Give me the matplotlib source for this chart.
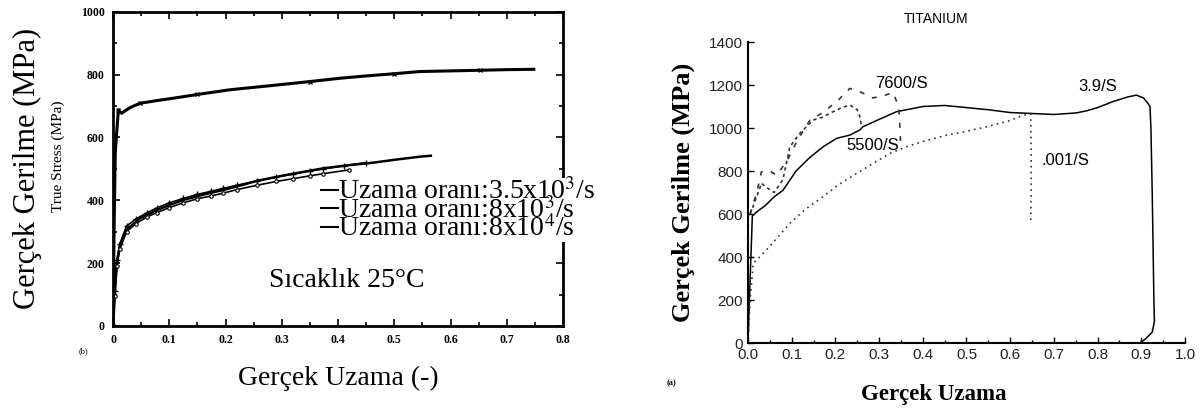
import matplotlib
matplotlib.use("Agg")
import matplotlib.pyplot as plt
from matplotlib.ticker import MultipleLocator, FuncFormatter, FormatStrFormatter

plt.rcParams["font.family"] = ["Liberation Serif", "DejaVu Serif"]
plt.rcParams["mathtext.fontset"] = "stix"

# --- sol panel (b): gerilme-uzama, 25 C
x_ust = [0, 0.002, 0.004, 0.0095, 0.015, 0.03, 0.048, 0.08, 0.107, 0.15, 0.208, 0.28, 0.35, 0.4, 0.45, 0.5, 0.546, 0.6, 0.653, 0.7, 0.748]
y_ust = [0, 330, 555, 688, 677, 695, 709, 718, 725, 737, 752, 765, 778, 788, 796, 803, 810, 812, 814, 816, 817]

x_a = [0, 0.002, 0.0036, 0.0065, 0.012, 0.024, 0.048, 0.078, 0.1, 0.125, 0.16, 0.196, 0.23, 0.256, 0.3, 0.34, 0.374, 0.42, 0.463, 0.5, 0.546, 0.565]
y_a = [0, 60, 115, 200, 253, 306, 343, 369, 385, 401, 418, 433, 449, 462, 478, 491, 502, 512, 520, 529, 539, 542]

x_b = [0, 0.003, 0.007, 0.012, 0.024, 0.04, 0.06, 0.078, 0.1, 0.125, 0.15, 0.175, 0.196, 0.22, 0.256, 0.29, 0.32, 0.35, 0.374, 0.41, 0.45]
y_b = [0, 110, 210, 262, 318, 340, 360, 376, 392, 406, 419, 429, 438, 448, 462, 474, 484, 494, 500, 510, 520]

x_c = [0, 0.003, 0.007, 0.012, 0.024, 0.04, 0.06, 0.078, 0.1, 0.125, 0.15, 0.175, 0.196, 0.22, 0.256, 0.29, 0.32, 0.35, 0.374, 0.42]
y_c = [0, 95, 190, 245, 300, 325, 347, 361, 377, 392, 405, 414, 423, 434, 448, 460, 469, 478, 485, 497]

etiketler_b = ["Uzama oranı:3.5x10$^3$/s", "Uzama oranı:8x10$^3$/s", "Uzama oranı:8x10$^4$/s"]

# --- sag panel (a): TITANIUM
x_39 = [0, 0.005, 0.01, 0.02, 0.04, 0.06, 0.08, 0.11, 0.14, 0.172, 0.203, 0.233, 0.256, 0.263, 0.3, 0.34, 0.4, 0.45, 0.5, 0.55, 0.6, 0.645, 0.7, 0.75, 0.775, 0.8, 0.835, 0.87, 0.889, 0.905, 0.915, 0.92, 0.922, 0.925, 0.929, 0.93, 0.925, 0.91, 0.897]
y_39 = [0, 300, 590, 610, 640, 680, 710, 800, 860, 913, 952, 967, 991, 1006, 1040, 1076, 1100, 1105, 1095, 1085, 1072, 1068, 1063, 1070, 1080, 1095, 1123, 1145, 1153, 1140, 1115, 1099, 1000, 700, 180, 100, 50, 20, 0]

x_55 = [0.005, 0.02, 0.031, 0.045, 0.06, 0.08, 0.096, 0.119, 0.149, 0.17, 0.195, 0.215, 0.233, 0.25, 0.256, 0.26]
y_55 = [600, 680, 743, 720, 700, 760, 913, 976, 1037, 1050, 1076, 1095, 1107, 1085, 1053, 1006]

x_76 = [0.005, 0.02, 0.031, 0.05, 0.066, 0.09, 0.115, 0.142, 0.17, 0.203, 0.233, 0.256, 0.286, 0.31, 0.332, 0.345, 0.348, 0.35]
y_76 = [600, 700, 797, 800, 780, 850, 950, 1037, 1070, 1123, 1184, 1169, 1140, 1150, 1165, 1099, 991, 900]

x_001 = [0, 0.005, 0.012, 0.02, 0.05, 0.096, 0.13, 0.172, 0.21, 0.249, 0.29, 0.325, 0.363, 0.4, 0.455, 0.5, 0.546, 0.6, 0.63, 0.647, 0.648, 0.648, 0.647]
y_001 = [0, 200, 372, 386, 450, 557, 620, 681, 740, 789, 840, 882, 913, 937, 967, 985, 1006, 1035, 1060, 1065, 900, 700, 572]

oranlar_a = ["3.9/S", "5500/S", "7600/S", ".001/S"]

fig = plt.figure(figsize=(12, 4.08), dpi=100)

# ---------------- sol panel
ax1 = fig.add_axes([0.0942, 0.201, 0.375, 0.770])
ax1.plot(x_ust, y_ust, color="black", lw=2.2, marker="x", ms=3, markevery=3)
ax1.plot(x_a, y_a, color="black", lw=1.8, label=etiketler_b[0])
ax1.plot(x_b, y_b, color="black", lw=1.2, marker="+", ms=4, mew=1, label=etiketler_b[1])
ax1.plot(x_c, y_c, color="black", lw=1.2, marker="o", ms=2.5, mfc="white", mew=0.8, label=etiketler_b[2])
ax1.set_xlim(0, 0.8)
ax1.set_ylim(0, 1000)
ax1.xaxis.set_major_locator(MultipleLocator(0.1))
ax1.xaxis.set_minor_locator(MultipleLocator(0.05))
ax1.yaxis.set_major_locator(MultipleLocator(200))
ax1.yaxis.set_minor_locator(MultipleLocator(100))
ax1.xaxis.set_major_formatter(FuncFormatter(lambda v, p: "0" if v == 0 else f"{v:.1f}"))
ax1.tick_params(which="both", direction="in", top=True, right=True, width=1.2)
ax1.tick_params(which="major", length=5, labelsize=8.5, pad=6)
ax1.tick_params(which="minor", length=3)
for t in ax1.get_xticklabels() + ax1.get_yticklabels():
    t.set_fontweight("bold")
for s in ax1.spines.values():
    s.set_linewidth(2)
ax1.set_xlabel("Gerçek Uzama (-)", fontsize=20, labelpad=14)
ax1.set_ylabel("Gerçek Gerilme (MPa)", fontsize=22, labelpad=28)
ax1.text(-0.122, 0.54, "True Stress (MPa)", transform=ax1.transAxes, rotation=90,
         ha="center", va="center", fontsize=11)
ax1.text(-0.065, -0.085, "(b)", transform=ax1.transAxes, fontsize=6, ha="center")
ax1.text(0.52, 0.146, "Sıcaklık 25°C", transform=ax1.transAxes, fontsize=20, ha="center", va="center")
leg = ax1.legend(loc="upper left", bbox_to_anchor=(0.463, 0.47), fontsize=20, frameon=True,
                 facecolor="white", edgecolor="none", framealpha=1, handlelength=0.6,
                 handletextpad=0.0, labelspacing=-0.3, borderpad=0.0, borderaxespad=0)
for h in leg.legend_handles:
    h.set_marker("")
    h.set_linewidth(1.5)

# ---------------- sag panel
ax2 = fig.add_axes([0.6233, 0.1593, 0.3642, 0.7377])
ax2.plot(x_39, y_39, color="black", lw=1.1)
ax2.plot(x_55, y_55, color="#333333", lw=1.2, ls=(0, (2, 2)))
ax2.plot(x_76, y_76, color="#333333", lw=1.2, ls=(0, (3, 5)))
ax2.plot(x_001, y_001, color="#333333", lw=1.2, ls=(0, (1, 2.5)))
ax2.set_xlim(0, 1.0)
ax2.set_ylim(0, 1400)
ax2.xaxis.set_major_locator(MultipleLocator(0.1))
ax2.xaxis.set_minor_locator(MultipleLocator(0.05))
ax2.yaxis.set_major_locator(MultipleLocator(200))
ax2.xaxis.set_major_formatter(FormatStrFormatter("%.1f"))
ax2.spines["top"].set_visible(False)
ax2.spines["right"].set_visible(False)
ax2.spines["left"].set_linewidth(1.5)
ax2.spines["bottom"].set_linewidth(1.5)
ax2.tick_params(which="both", direction="in", width=1, labelsize=11, labelcolor="#222222")
ax2.tick_params(which="major", length=4)
ax2.tick_params(which="minor", length=2)
sans = ["Liberation Sans", "DejaVu Sans"]
for t in ax2.get_xticklabels() + ax2.get_yticklabels():
    t.set_family(sans)
ax2.set_xlabel("Gerçek Uzama", fontsize=16.5, fontweight="bold")
ax2.xaxis.set_label_coords((934 - 748) / 437, -0.135)
ax2.set_ylabel("Gerçek Gerilme (MPa)", fontsize=19, fontweight="bold", labelpad=10)
ax2.set_title("TITANIUM", fontsize=10, family=sans, x=(936 - 748) / 437, pad=14)
ax2.text(0.292, 1205, oranlar_a[2], fontsize=12, family=sans, ha="left", va="center")
ax2.text(0.225, 920, oranlar_a[1], fontsize=12, family=sans, ha="left", va="center")
ax2.text(0.756, 1195, oranlar_a[0], fontsize=12, family=sans, ha="left", va="center")
ax2.text(0.672, 850, oranlar_a[3], fontsize=12, family=sans, ha="left", va="center")
ax2.text(-0.175, -0.14, "(a)", transform=ax2.transAxes, fontsize=6, fontweight="bold", ha="center")

fig.savefig("out.png", dpi=100)
